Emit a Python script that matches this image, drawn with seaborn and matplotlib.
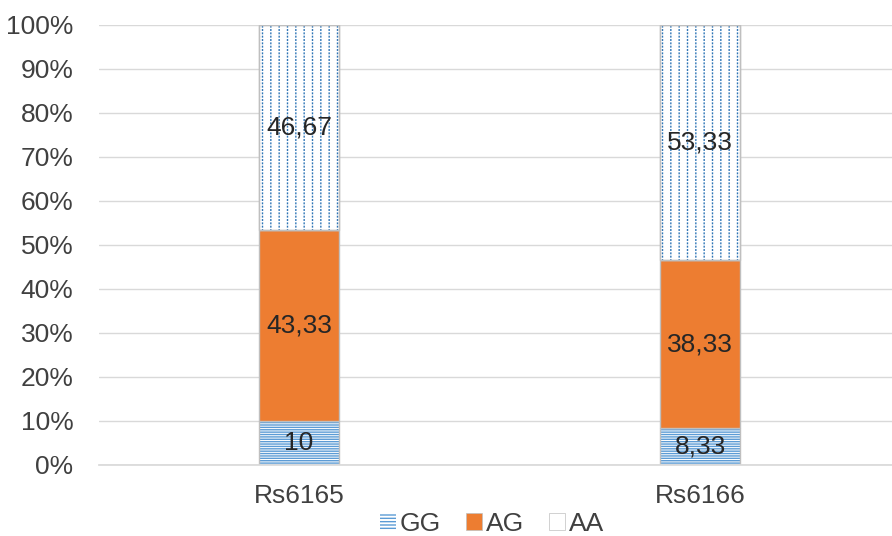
import matplotlib
matplotlib.use("Agg")
import matplotlib.pyplot as plt
import matplotlib.colors as mcolors
import seaborn as sns
import pandas as pd

# Genotype frequencies (%) per SNP
snps = ["Rs6165", "Rs6166"]
gg = [10.0, 8.33]
ag = [43.33, 38.33]
aa = [46.67, 53.33]
gg_labels = ["10", "8,33"]
ag_labels = ["43,33", "38,33"]
aa_labels = ["46,67", "53,33"]
yticks = [0, 10, 20, 30, 40, 50, 60, 70, 80, 90, 100]

BLUE = "#5B9BD5"
ORANGE = "#ED7D31"
EDGE = "#BFBFBF"
TEXT = "#262626"
FS = 19

sns.set_theme(style="white")
plt.rcParams["font.family"] = ["Liberation Sans", "DejaVu Sans"]
plt.rcParams["hatch.linewidth"] = 1.0

df = pd.DataFrame({"snp": snps, "GG": gg, "AG": ag, "AA": aa})
df["GG_AG"] = df["GG"] + df["AG"]

fig = plt.figure(figsize=(8.92, 5.36), dpi=100)
ax = fig.add_axes([98.5 / 892, 71 / 536, 802 / 892, 440 / 536])

W = 0.2


def new_patches(start):
    return list(ax.patches)[start:]


# GG segment: white with dense horizontal blue lines
n = len(ax.patches)
sns.barplot(data=df, x="snp", y="GG", ax=ax, width=W, color="white",
            edgecolor=EDGE, linewidth=1.0, hatch="-------", saturation=1)
for p in new_patches(n):
    p._hatch_color = mcolors.to_rgba(BLUE)

# AG segment: solid orange
sns.barplot(data=df, x="snp", y="AG", ax=ax, width=W, color=ORANGE,
            edgecolor=EDGE, linewidth=1.0, bottom=df["GG"], saturation=1)

# AA segment: white with dotted vertical blue lines
n = len(ax.patches)
sns.barplot(data=df, x="snp", y="AA", ax=ax, width=W, color="white",
            edgecolor=EDGE, linewidth=1.0, bottom=df["GG_AG"], hatch="||",
            saturation=1)
for p in new_patches(n):
    p._hatch_color = mcolors.to_rgba("#2E75B6")

# white horizontal hatch on top breaks the vertical lines into dots
overlay = ax.bar(range(len(snps)), df["AA"], bottom=df["GG_AG"], width=W,
                 facecolor="none", edgecolor="white", linewidth=0, hatch="-----",
                 zorder=2.5)
for p in overlay:
    p._hatch_color = mcolors.to_rgba("white")
    p.set_linewidth(0)
# AA outline drawn again above the white hatch
ax.bar(range(len(snps)), df["AA"], bottom=df["GG_AG"], width=W, fill=False,
       edgecolor=EDGE, linewidth=1.0, zorder=2.6)

# value labels centred in each segment
ax.bar_label(ax.containers[0], labels=gg_labels, label_type="center", fontsize=FS, color=TEXT)
ax.bar_label(ax.containers[1], labels=ag_labels, label_type="center", fontsize=FS, color=TEXT)
ax.bar_label(ax.containers[2], labels=aa_labels, label_type="center", fontsize=FS, color=TEXT)

ax.set_xlim(-0.5, 1.5)
ax.set_ylim(0, 100)
ax.set_yticks(yticks)
ax.set_yticklabels([f"{t}%" for t in yticks])
ax.set_xlabel("")
ax.set_ylabel("")
ax.yaxis.grid(True, color="#D9D9D9", linewidth=1.0)
ax.set_axisbelow(True)
for s in ["top", "right", "left"]:
    ax.spines[s].set_visible(False)
ax.spines["bottom"].set_color("#D9D9D9")
ax.tick_params(axis="both", length=0, labelsize=FS, labelcolor="#404040")
ax.tick_params(axis="x", pad=14)
ax.tick_params(axis="y", pad=18)

handles = [
    plt.Rectangle((0, 0), 1, 1, facecolor="white", edgecolor=BLUE, hatch="-----", linewidth=0),
    plt.Rectangle((0, 0), 1, 1, facecolor=ORANGE, edgecolor=EDGE, linewidth=0.5),
    plt.Rectangle((0, 0), 1, 1, facecolor="white", edgecolor=EDGE, linewidth=0.5),
]
handles[0]._hatch_color = mcolors.to_rgba(BLUE)
fig.legend(handles, ["GG", "AG", "AA"], loc="center", bbox_to_anchor=(492 / 892, 1 - 524 / 536),
           ncol=3, frameon=False, fontsize=FS, handlelength=0.6, handleheight=0.6,
           handletextpad=0.15, columnspacing=0.95, labelcolor="#404040")

fig.savefig("out.png", dpi=100)
